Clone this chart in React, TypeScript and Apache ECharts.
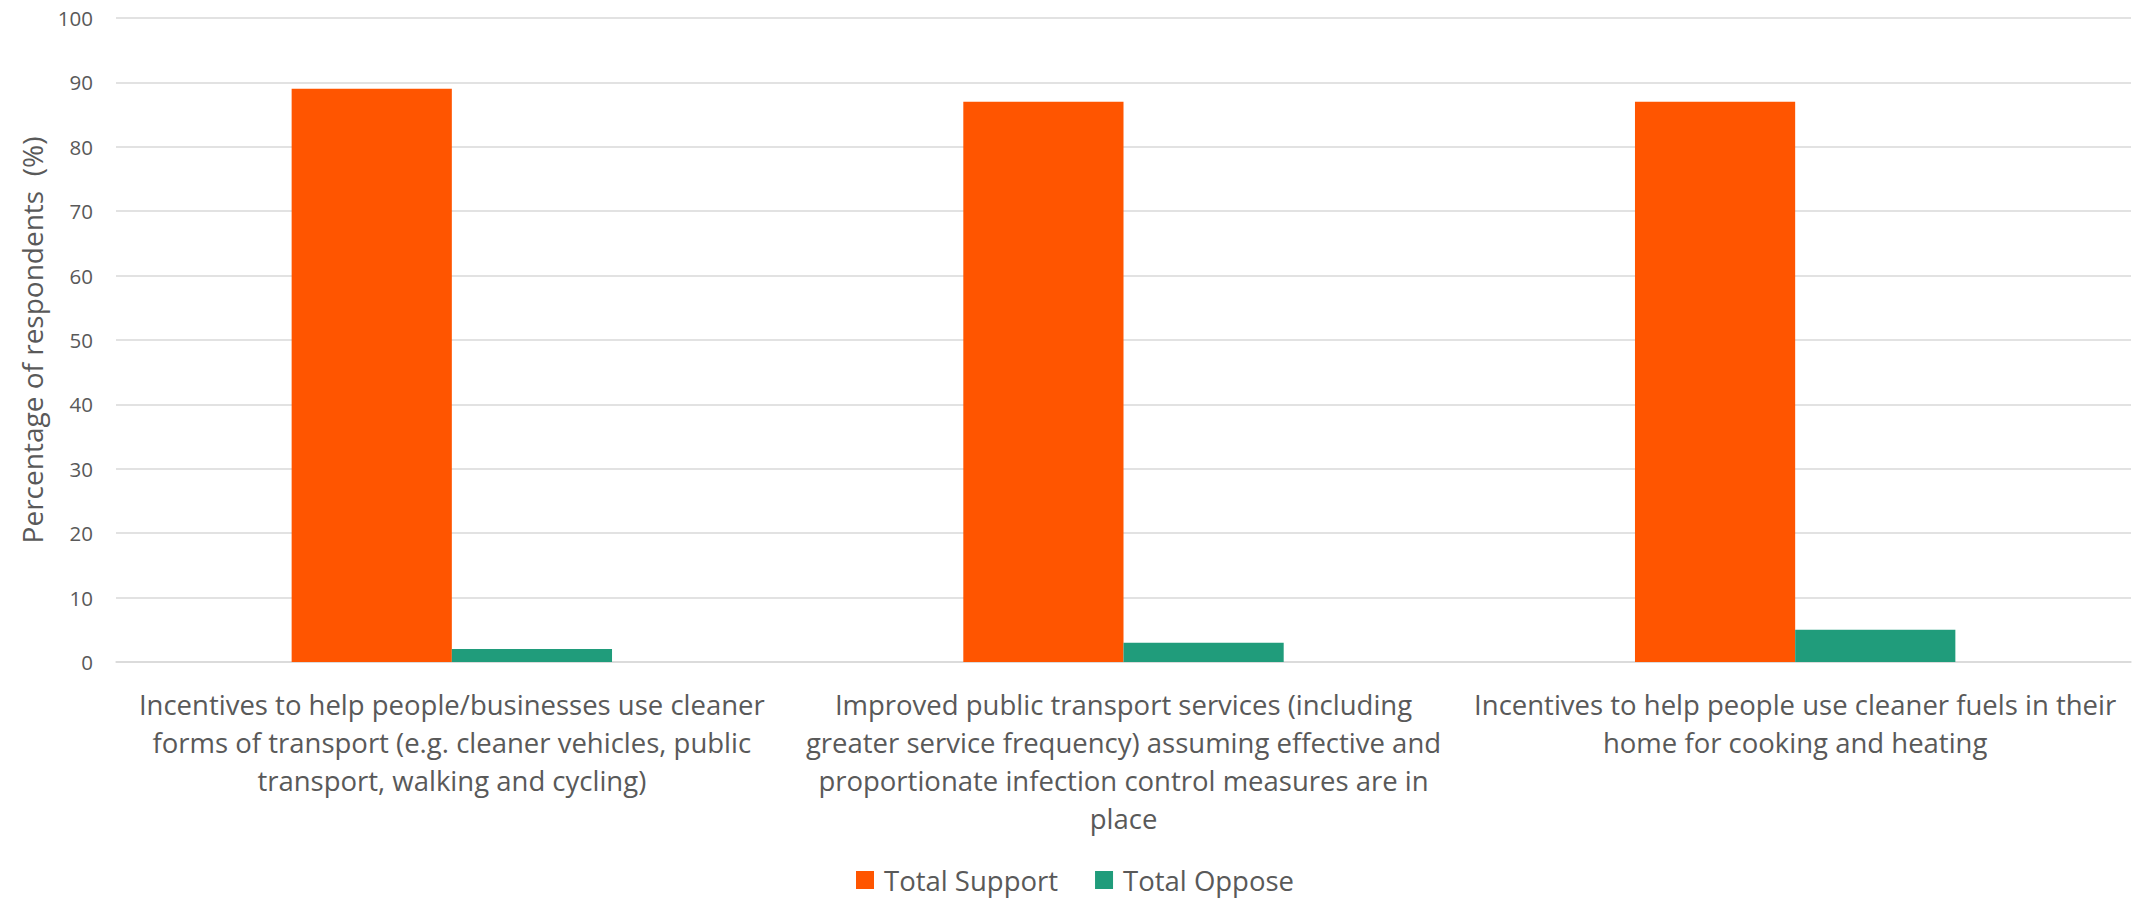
import React, { useEffect, useRef } from "react";
import * as echarts from "echarts";

const categories = [
  "Incentives to help people/businesses use cleaner\nforms of transport (e.g. cleaner vehicles, public\ntransport, walking and cycling)",
  "Improved public transport services (including\ngreater service frequency) assuming effective and\nproportionate infection control measures are in\nplace",
  "Incentives to help people use cleaner fuels in their\nhome for cooking and heating",
];
const supportValues = [89, 87, 87];
const opposeValues = [2, 3, 5];
const seriesNames = ["Total Support", "Total Oppose"];
const yAxisName = "Percentage of respondents  (%)";

const FONT = "Open Sans";
const TEXT = "#595959";

export default function App() {
  const ref = useRef<HTMLDivElement>(null);
  useEffect(() => {
    if (!ref.current) return;
    const chart = echarts.init(ref.current, undefined, { renderer: "svg" });
    chart.setOption({
      animation: false,
      backgroundColor: "#ffffff",
      textStyle: { fontFamily: FONT },
      grid: { left: 116, right: 7, top: 18, bottom: 236, containLabel: false },
      legend: {
        data: seriesNames,
        top: 866,
        left: 856,
        padding: 0,
        itemWidth: 18,
        itemHeight: 18,
        itemGap: 37,
        icon: "rect",
        textStyle: { fontFamily: FONT, fontSize: 27.5, lineHeight: 28, color: TEXT, padding: [0, 0, 0, 5] },
      },
      xAxis: {
        type: "category",
        data: categories,
        axisLine: { lineStyle: { color: "#d9d9d9", width: 1.5 } },
        axisTick: { show: false },
        axisLabel: {
          interval: 0,
          color: TEXT,
          fontFamily: FONT,
          fontSize: 27.5,
          lineHeight: 38,
          margin: 23,
          align: "center",
        },
      },
      yAxis: {
        type: "value",
        min: 0,
        max: 100,
        interval: 10,
        name: yAxisName,
        nameLocation: "middle",
        nameGap: 70,
        nameTextStyle: { color: TEXT, fontFamily: FONT, fontSize: 28 },
        axisLine: { show: false },
        axisTick: { show: false },
        axisLabel: { color: TEXT, fontFamily: FONT, fontSize: 20.5, margin: 23 },
        splitLine: { lineStyle: { color: "#d9d9d9", width: 1.5 } },
      },
      series: [
        {
          name: seriesNames[0],
          type: "bar",
          data: supportValues,
          itemStyle: { color: "#FF5500" },
          barGap: "0%",
          barCategoryGap: "52.3%",
        },
        {
          name: seriesNames[1],
          type: "bar",
          data: opposeValues,
          itemStyle: { color: "#209C7B" },
          barGap: "0%",
          barCategoryGap: "52.3%",
        },
      ],
    });
    return () => chart.dispose();
  }, []);
  return (
    <div
      ref={ref}
      style={{ position: "fixed", left: 0, top: 0, width: 2138, height: 898, background: "#fff" }}
    />
  );
}
